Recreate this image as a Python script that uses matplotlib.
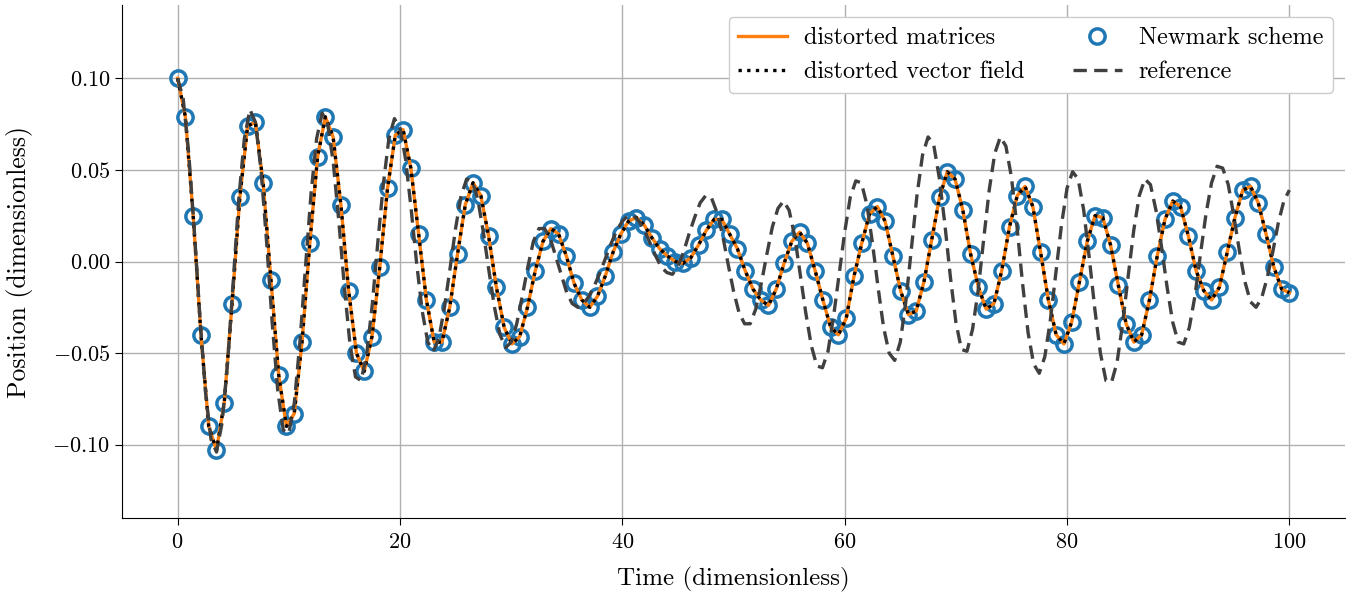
import numpy as np
import matplotlib
matplotlib.use("Agg")
import matplotlib.pyplot as plt

# ---------------- data ----------------
t_end = 100.0
n_steps = 143          # Newmark time steps
ref_dt = 0.5           # sampling of reference curve

newmark = [
    0.100, 0.079, 0.025, -0.040, -0.090, -0.103, -0.077, -0.023, 0.035, 0.074,
    0.076, 0.043, -0.010, -0.062, -0.090, -0.083, -0.044, 0.010, 0.057, 0.079,
    0.068, 0.031, -0.016, -0.050, -0.060, -0.041, -0.003, 0.040, 0.069, 0.072,
    0.051, 0.015, -0.021, -0.044, -0.044, -0.025, 0.004, 0.031, 0.043, 0.036,
    0.014, -0.014, -0.036, -0.045, -0.041, -0.025, -0.005, 0.011, 0.018, 0.015,
    0.003, -0.012, -0.021, -0.025, -0.019, -0.008, 0.005, 0.015, 0.022, 0.024,
    0.020, 0.013, 0.007, 0.003, 0.000, -0.001, 0.002, 0.009, 0.017, 0.023,
    0.023, 0.015, 0.007, -0.005, -0.015, -0.021, -0.024, -0.015, -0.001, 0.011,
    0.016, 0.010, -0.005, -0.021, -0.036, -0.040, -0.031, -0.008, 0.010, 0.026,
    0.030, 0.022, 0.003, -0.016, -0.029, -0.027, -0.011, 0.012, 0.035, 0.049,
    0.045, 0.028, 0.004, -0.014, -0.026, -0.023, -0.005, 0.019, 0.036, 0.041,
    0.030, 0.005, -0.021, -0.040, -0.045, -0.033, -0.011, 0.011, 0.025, 0.024,
    0.009, -0.013, -0.034, -0.044, -0.040, -0.021, 0.003, 0.023, 0.033, 0.030,
    0.014, -0.005, -0.016, -0.021, -0.014, 0.005, 0.024, 0.039, 0.041, 0.032,
    0.015, -0.003, -0.015, -0.017,
]

reference = [
    0.100, 0.089, 0.059, 0.017, -0.030, -0.071, -0.097, -0.104, -0.088, -0.055,
    -0.011, 0.034, 0.067, 0.083, 0.076, 0.050, 0.011, -0.033, -0.070, -0.092,
    -0.094, -0.077, -0.044, -0.003, 0.037, 0.067, 0.081, 0.075, 0.054, 0.022,
    -0.014, -0.045, -0.063, -0.065, -0.051, -0.024, 0.010, 0.042, 0.067, 0.078,
    0.073, 0.056, 0.029, -0.001, -0.027, -0.044, -0.049, -0.042, -0.025, -0.004,
    0.018, 0.036, 0.045, 0.044, 0.034, 0.016, -0.005, -0.025, -0.040, -0.047,
    -0.044, -0.034, -0.019, -0.003, 0.011, 0.018, 0.018, 0.013, 0.003, -0.007,
    -0.017, -0.023, -0.025, -0.023, -0.019, -0.013, -0.006, 0.002, 0.010, 0.017,
    0.022, 0.025, 0.025, 0.022, 0.017, 0.010, 0.003, -0.003, -0.006, -0.007,
    -0.003, 0.005, 0.015, 0.024, 0.032, 0.036, 0.035, 0.027, 0.015, -0.001,
    -0.016, -0.028, -0.034, -0.034, -0.026, -0.012, 0.004, 0.019, 0.029, 0.033,
    0.028, 0.014, -0.007, -0.028, -0.046, -0.057, -0.058, -0.049, -0.030, -0.007,
    0.016, 0.035, 0.044, 0.043, 0.031, 0.010, -0.014, -0.036, -0.050, -0.054,
    -0.044, -0.022, 0.007, 0.036, 0.058, 0.068, 0.064, 0.046, 0.021, -0.008,
    -0.033, -0.048, -0.049, -0.037, -0.016, 0.012, 0.039, 0.059, 0.068, 0.063,
    0.046, 0.019, -0.012, -0.039, -0.056, -0.061, -0.052, -0.032, -0.006, 0.020,
    0.040, 0.049, 0.045, 0.028, 0.002, -0.026, -0.050, -0.065, -0.066, -0.055,
    -0.034, -0.008, 0.017, 0.036, 0.045, 0.042, 0.028, 0.008, -0.014, -0.033,
    -0.044, -0.045, -0.036, -0.019, 0.004, 0.026, 0.043, 0.052, 0.051, 0.042,
    0.025, 0.006, -0.011, -0.022, -0.025, -0.020, -0.009, 0.005, 0.021, 0.033,
    0.039,
]

x_ticks = [0, 20, 40, 60, 80, 100]
y_ticks = [-0.10, -0.05, 0.00, 0.05, 0.10]
y_tick_labels = [r"$-0.10$", r"$-0.05$", r"$0.00$", r"$0.05$", r"$0.10$"]
labels = ["distorted matrices", "distorted vector field", "Newmark scheme", "reference"]

t_nm = np.linspace(0, t_end, n_steps + 1)
t_ref = np.linspace(0, t_end, len(reference))

# ---------------- style ----------------
plt.rcParams["font.family"] = "serif"
plt.rcParams["font.serif"] = ["cmr10", "DejaVu Serif"]
plt.rcParams["mathtext.fontset"] = "cm"
plt.rcParams["axes.formatter.use_mathtext"] = True
plt.rcParams["axes.unicode_minus"] = False

fig = plt.figure(figsize=(13.62, 5.93), dpi=100)
ax = fig.add_axes([0.0896, 0.1265, 0.8979, 0.865])

h_nm, = ax.plot(t_nm, newmark, linestyle="none", marker="o", markersize=11,
                markerfacecolor="none", markeredgecolor="#1f77b4",
                markeredgewidth=2.5, zorder=2)
h_dm, = ax.plot(t_nm, newmark, color="#ff7f0e", lw=2.4, zorder=3)
h_dv, = ax.plot(t_nm, newmark, color="black", lw=2.4, linestyle=(0, (1, 1.6)), zorder=4)
h_ref, = ax.plot(t_ref, reference, color="#404040", lw=2.4,
                 linestyle=(0, (4, 2.2)), zorder=5)

ax.set_xlim(-5, 105)
ax.set_ylim(-0.14, 0.14)
ax.set_xticks(x_ticks)
ax.set_xticklabels([rf"${v}$" for v in x_ticks])
ax.set_yticks(y_ticks)
ax.set_yticklabels(y_tick_labels)
ax.tick_params(labelsize=16, length=5)
ax.tick_params(axis="x", pad=5.5)
ax.grid(True, color="#b0b0b0", lw=1.0)
ax.set_axisbelow(True)
for s in ["top", "right"]:
    ax.spines[s].set_visible(False)

ax.set_xlabel("Time (dimensionless)", fontsize=18, labelpad=11)
ax.set_ylabel("Position (dimensionless)", fontsize=18.5, labelpad=14)

ax.legend([h_dm, h_dv, h_nm, h_ref], labels, ncol=2, loc="upper right",
          fontsize=17.5, framealpha=1.0, edgecolor="#cccccc",
          borderaxespad=0.5, columnspacing=2.0, handlelength=2.0,
          handletextpad=0.7)

fig.savefig("out.png", dpi=100)
